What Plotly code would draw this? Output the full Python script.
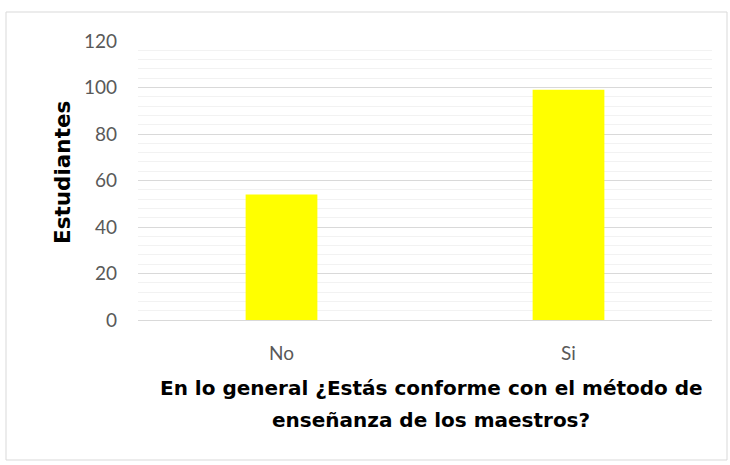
import plotly.graph_objects as go

categories = ["No", "Si"]
values = [54, 99]
y_ticks = [0, 20, 40, 60, 80, 100, 120]

W, H = 730, 465
L, R, T, B = 138, 18, 41, 145
pw, ph = W - L - R, H - T - B

fig = go.Figure(go.Bar(x=categories, y=values, marker=dict(color="#FFFF00", line=dict(width=0)), width=0.25))

font = "Lato, 'Open Sans', sans-serif"
tfont = "'DejaVu Sans', sans-serif"
fig.update_layout(
    width=W, height=H,
    margin=dict(l=L, r=R, t=T, b=B),
    paper_bgcolor="white", plot_bgcolor="white",
    showlegend=False,
    font=dict(family=font, size=19, color="#595959"),
    bargap=0.75,
)
fig.update_yaxes(
    range=[0, 120], tickvals=y_ticks, showgrid=True, gridcolor="#D9D9D9", gridwidth=1,
    minor=dict(dtick=4, showgrid=True, gridcolor="#F2F2F2", gridwidth=1),
    zeroline=False, showline=False, ticks="", ticklabelstandoff=20,
    tickfont=dict(size=19, color="#595959"),
)
fig.update_xaxes(
    showline=True, linecolor="#D9D9D9", linewidth=1, ticks="", ticklabelstandoff=16,
    tickfont=dict(size=19, color="#595959"),
)

def px(x):
    return (x - L) / pw
def py(y):
    return (H - B - y) / ph

fig.add_annotation(x=px(62), y=py(173), xref="paper", yref="paper", text="<b>Estudiantes</b>",
                   xanchor="center", yanchor="middle",
                   textangle=-90, showarrow=False, font=dict(size=21.5, color="black", family=tfont))
fig.add_annotation(x=px(431), y=py(388), xref="paper", yref="paper",
                   xanchor="center", yanchor="middle",
                   text="<b>En lo general ¿Estás conforme con el método de</b>",
                   showarrow=False, font=dict(size=20, color="black", family=tfont), align="center")
fig.add_annotation(x=px(431), y=py(420), xref="paper", yref="paper",
                   xanchor="center", yanchor="middle",
                   text="<b>enseñanza de los maestros?</b>",
                   showarrow=False, font=dict(size=20, color="black", family=tfont), align="center")
fig.add_shape(type="rect", xref="paper", yref="paper", x0=px(6), x1=px(727), y0=py(460), y1=py(12),
              line=dict(color="#D9D9D9", width=1), fillcolor="rgba(0,0,0,0)", layer="below")

fig.write_html("out.html", config={"displayModeBar": False},
               post_script="document.body.style.margin='0';document.body.style.overflow='hidden';")
